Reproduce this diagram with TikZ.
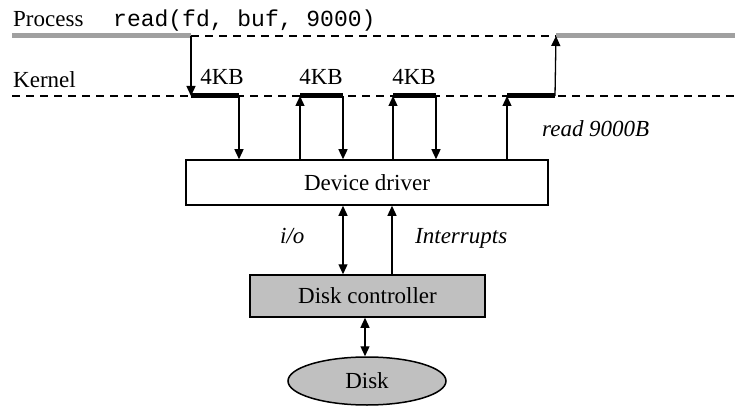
\documentclass[tikz,border=0pt]{standalone}
\usepackage{fontspec}
\setmainfont{Liberation Serif}
\setmonofont{Liberation Mono}
\usetikzlibrary{arrows.meta,shapes.geometric}
\definecolor{procgray}{HTML}{A0A0A0}
\definecolor{boxgray}{HTML}{C0C0C0}
\begin{document}
\begin{tikzpicture}[x=1pt,y=-1pt,
  every node/.style={font=\fontsize{23}{27}\selectfont},
  lbl/.style={inner sep=0pt},
  proc/.style={line width=5pt,draw=procgray},
  dashln/.style={line width=1.8pt,dash pattern=on 8pt off 6pt},
  buf/.style={line width=5pt},
  arr/.style={line width=1.3pt,-{Triangle[length=10pt,width=9pt]}},
  darr/.style={line width=1.3pt,{Triangle[length=10pt,width=9pt]}-{Triangle[length=10pt,width=9pt]}},
  boxw/.style={draw,line width=1.5pt,fill=white,inner sep=0pt},
  boxg/.style={draw,line width=1.5pt,fill=boxgray,inner sep=0pt}]
\useasboundingbox (0,0) rectangle (755,417);
% process line
\coordinate (p0) at (12,36);
\coordinate (p1) at (191,36);
\coordinate (p2) at (556,36);
\coordinate (p3) at (735,36);
\coordinate (kL) at (12,96);
\coordinate (kR) at (735,96);
\coordinate (a1) at (191,96);
\coordinate (a2) at (239,96);
\coordinate (b1) at (300,96);
\coordinate (b2) at (343,96);
\coordinate (c1) at (393,96);
\coordinate (c2) at (436,96);
\coordinate (d1) at (507,96);
\coordinate (d2) at (555,96);
\draw[proc] (p0) -- (p1);
\draw[proc] (p2) -- (p3);
\draw[dashln] (p1) -- (p2);
\draw[dashln] (kL) -- (kR);
\draw[buf] (a1) -- (a2);
\draw[buf] (b1) -- (b2);
\draw[buf] (c1) -- (c2);
\draw[buf] (d1) -- (d2);
% texts
\node[lbl,anchor=base west] (tproc) at (13,27) {Process};
\node[lbl,anchor=base west] (tread) at (113,27) {\ttfamily read(fd, buf, 9000)};
\node[lbl,anchor=base west] (tkern) at (13,88) {Kernel};
\node[lbl,anchor=base] (l1) at (222,85) {4KB};
\node[lbl,anchor=base] (l2) at (321,85) {4KB};
\node[lbl,anchor=base] (l3) at (414,85) {4KB};
\node[lbl,anchor=base west] (tr9) at (542,137) {\itshape read 9000B};
% boxes
\node[boxw,minimum width=362pt,minimum height=45pt] (dd) at (367,182.5) {Device driver};
\node[boxg,minimum width=235pt,minimum height=42pt] (dc) at (367.5,296) {Disk controller};
\node[draw,line width=1.5pt,fill=boxgray,ellipse,inner sep=0pt,minimum width=158pt,minimum height=48pt] (disk) at (367,381) {Disk};
% arrows
\draw[arr] (p1) -- (a1);
\draw[arr] (a2) -- (a2 |- dd.north);
\draw[arr] (b1 |- dd.north) -- (b1);
\draw[arr] (b2) -- (b2 |- dd.north);
\draw[arr] (c1 |- dd.north) -- (c1);
\draw[arr] (c2) -- (c2 |- dd.north);
\draw[arr] (d1 |- dd.north) -- (d1);
\draw[arr] (d2) -- (p2 |- p1);
\coordinate (io) at (343,0);
\coordinate (intr) at (392,0);
\draw[darr] (io |- dd.south) -- (io |- dc.north);
\draw[arr] (intr |- dc.north) -- (intr |- dd.south);
\coordinate (dk) at (365,0);
\draw[darr] (dk |- dc.south) -- (dk |- disk.north);
\node[lbl,anchor=base west] (tio) at (280,243) {\itshape i/o};
\node[lbl,anchor=base west] (tint) at (415,243) {\itshape Interrupts};
\end{tikzpicture}
\end{document}
